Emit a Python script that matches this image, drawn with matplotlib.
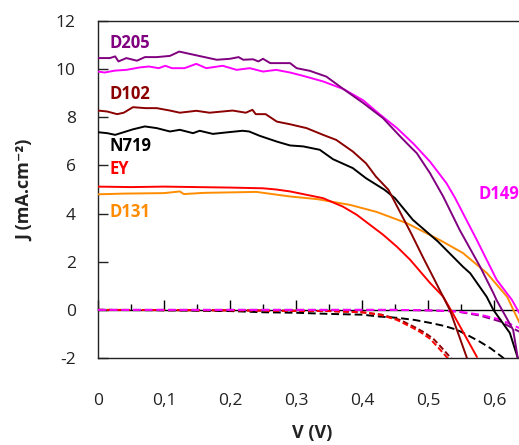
import matplotlib
matplotlib.use("Agg")
import matplotlib.pyplot as plt
from matplotlib.ticker import MultipleLocator, FuncFormatter

plt.rcParams['font.family'] = ['Open Sans', 'DejaVu Sans']

# ---- light J-V curves ----
v_d205 = [0.0, 0.018, 0.026, 0.031, 0.043, 0.059, 0.071, 0.089, 0.109, 0.123, 0.138, 0.158, 0.18, 0.2,
          0.213, 0.22, 0.235, 0.243, 0.25, 0.261, 0.291, 0.301, 0.321, 0.346, 0.372, 0.402, 0.432, 0.458,
          0.473, 0.483, 0.503, 0.523, 0.548, 0.579, 0.599, 0.604, 0.629, 0.636, 0.64]
j_d205 = [10.46, 10.46, 10.53, 10.32, 10.46, 10.35, 10.5, 10.5, 10.55, 10.73, 10.64, 10.52, 10.39, 10.43,
          10.5, 10.39, 10.41, 10.32, 10.43, 10.25, 10.25, 10.04, 9.93, 9.69, 9.17, 8.59, 7.96, 7.2,
          6.78, 6.51, 5.68, 4.71, 3.32, 1.79, 0.7, 0.4, -0.83, -2.0, -2.6]

v_d149 = [0.0, 0.01, 0.026, 0.043, 0.063, 0.077, 0.092, 0.102, 0.112, 0.131, 0.149, 0.164, 0.189, 0.21,
          0.23, 0.25, 0.27, 0.291, 0.311, 0.341, 0.372, 0.402, 0.427, 0.453, 0.478, 0.503, 0.528, 0.541,
          0.574, 0.604, 0.627, 0.638, 0.65]
j_d149 = [9.9, 9.86, 9.94, 9.97, 10.07, 10.11, 10.04, 10.14, 10.04, 10.04, 10.22, 10.04, 10.14, 9.97,
          10.04, 9.9, 9.97, 9.86, 9.72, 9.49, 9.17, 8.7, 8.12, 7.55, 6.9, 6.16, 5.26, 4.65,
          2.9, 1.25, 0.42, -0.12, -0.6]

v_d102 = [0.0, 0.014, 0.029, 0.039, 0.053, 0.072, 0.089, 0.109, 0.124, 0.149, 0.169, 0.204, 0.224, 0.234,
          0.239, 0.254, 0.271, 0.291, 0.316, 0.341, 0.361, 0.386, 0.406, 0.421, 0.44, 0.475, 0.493,
          0.508, 0.523, 0.533, 0.559]
j_d102 = [8.28, 8.24, 8.13, 8.19, 8.42, 8.38, 8.38, 8.28, 8.19, 8.27, 8.19, 8.28, 8.19, 8.31,
          8.13, 8.13, 7.82, 7.71, 7.55, 7.27, 7.06, 6.58, 6.09, 5.54, 4.99, 3.15, 2.15,
          1.35, 0.54, 0.0, -2.0]

v_n719 = [0.0, 0.014, 0.026, 0.039, 0.053, 0.071, 0.089, 0.109, 0.124, 0.144, 0.154, 0.174, 0.194, 0.219,
          0.229, 0.245, 0.271, 0.291, 0.311, 0.336, 0.356, 0.386, 0.406, 0.434, 0.45, 0.477, 0.515, 0.553,
          0.564, 0.589, 0.599, 0.624, 0.636]
j_n719 = [7.38, 7.34, 7.27, 7.38, 7.5, 7.62, 7.55, 7.41, 7.48, 7.34, 7.44, 7.31, 7.37, 7.44,
          7.41, 7.23, 6.99, 6.83, 6.79, 6.65, 6.26, 5.89, 5.47, 4.99, 4.64, 3.74, 2.84, 1.79,
          1.52, 0.54, 0.0, -0.96, -2.0]

v_ey = [0.0, 0.05, 0.1, 0.15, 0.2, 0.25, 0.27, 0.291, 0.316, 0.341, 0.371, 0.392, 0.432, 0.453, 0.473,
        0.503, 0.523, 0.536, 0.574]
j_ey = [5.12, 5.1, 5.12, 5.1, 5.08, 5.05, 5.0, 4.92, 4.78, 4.64, 4.29, 3.95, 3.12, 2.62, 2.08,
        1.12, 0.55, -0.07, -1.95]

v_d131 = [0.0, 0.04, 0.1, 0.124, 0.13, 0.16, 0.2, 0.24, 0.291, 0.332, 0.382, 0.422, 0.468, 0.518, 0.553,
          0.589, 0.62, 0.638, 0.65]
j_d131 = [4.8, 4.83, 4.85, 4.92, 4.81, 4.86, 4.88, 4.9, 4.71, 4.6, 4.36, 4.07, 3.6, 2.9, 2.36,
          1.53, 0.54, -0.5, -1.1]

# ---- dark J-V curves ----
v_n719_dark = [0.0, 0.1, 0.2, 0.25, 0.3, 0.352, 0.4, 0.427, 0.453, 0.48, 0.503, 0.525, 0.544, 0.56, 0.579,
               0.595, 0.612, 0.62]
j_n719_dark = [0.0, -0.02, -0.05, -0.1, -0.12, -0.17, -0.2, -0.28, -0.33, -0.42, -0.54, -0.67, -0.83, -1.05,
               -1.33, -1.6, -1.95, -2.15]
v_ey_dark = [0.0, 0.2, 0.35, 0.4, 0.427, 0.453, 0.477, 0.49, 0.503, 0.515, 0.528, 0.54]
j_ey_dark = [0.0, -0.02, -0.05, -0.1, -0.2, -0.42, -0.75, -0.95, -1.2, -1.55, -1.95, -2.3]
v_d102_dark = [0.0, 0.2, 0.35, 0.4, 0.43, 0.458, 0.482, 0.495, 0.508, 0.52, 0.533, 0.545]
j_d102_dark = [0.0, -0.02, -0.05, -0.1, -0.2, -0.42, -0.75, -0.95, -1.2, -1.55, -1.95, -2.3]
v_d205_dark = [0.0, 0.3, 0.45, 0.5, 0.544, 0.579, 0.609, 0.638, 0.65]
j_d205_dark = [0.0, 0.0, 0.0, -0.02, -0.07, -0.24, -0.48, -0.9, -1.1]
v_d149_dark = [0.0, 0.3, 0.45, 0.5, 0.544, 0.579, 0.609, 0.638, 0.65]
j_d149_dark = [0.0, 0.0, 0.0, -0.02, -0.06, -0.2, -0.4, -0.75, -0.9]

names = ['D205', 'D149', 'D102', 'N719', 'EY', 'D131']
colors = {'D205': '#800080', 'D149': '#FF00FF', 'D102': '#8B0000', 'N719': '#000000',
          'EY': '#FF0000', 'D131': '#FF8C00'}

x_ticks_labels = ['0', '0,1', '0,2', '0,3', '0,4', '0,5', '0,6']

W, H = 519, 445
fig = plt.figure(figsize=(W / 100, H / 100), dpi=100)
ax = fig.add_axes([98 / W, (445 - 358) / H, 0.64 * 660 / W, 337 / H])
ax.set_xlim(0, 0.64)
ax.set_ylim(-2, 12)

lw = 1.4
# dark curves
ax.plot(v_n719_dark, j_n719_dark, color=colors['N719'], lw=lw, ls=(0, (4, 2)), zorder=3)
ax.plot(v_d102_dark, j_d102_dark, color=colors['D102'], lw=lw, ls=(0, (3, 1.5)), zorder=3)
ax.plot(v_ey_dark, j_ey_dark, color=colors['EY'], lw=lw, ls=(0, (3, 1.5)), zorder=3)
ax.plot(v_d205_dark, j_d205_dark, color=colors['D205'], lw=lw, ls=(0, (4, 2)), zorder=3)
ax.plot(v_d149_dark, j_d149_dark, color=colors['D149'], lw=lw, ls=(0, (4, 2)), zorder=3)

# light curves
light = {'D205': (v_d205, j_d205), 'D149': (v_d149, j_d149), 'D102': (v_d102, j_d102),
         'N719': (v_n719, j_n719), 'EY': (v_ey, j_ey), 'D131': (v_d131, j_d131)}
for n in ['D131', 'EY', 'N719', 'D102', 'D149', 'D205']:
    v, j = light[n]
    ax.plot(v, j, color=colors[n], lw=lw, zorder=4)

# curve labels
lab_fs = 12
label_pos = {'D205': (0.018, 11.1), 'D102': (0.018, 8.95), 'N719': (0.018, 6.8),
             'EY': (0.018, 5.85), 'D131': (0.018, 4.05), 'D149': (0.577, 4.8)}
for n, (x, y) in label_pos.items():
    ax.text(x, y, n, color=colors[n], fontsize=lab_fs, fontweight='bold', ha='left', va='center',
            zorder=5)

# axes styling
for s in ['top', 'left', 'bottom']:
    ax.spines[s].set_color('#222222')
    ax.spines[s].set_linewidth(1.0)
ax.spines['right'].set_visible(False)

ax.yaxis.set_major_locator(MultipleLocator(2))
ax.yaxis.set_major_formatter(FuncFormatter(lambda y, p: f"{y:.0f}"))
ax.tick_params(axis='y', direction='in', length=7, width=1, pad=16, labelsize=12.5, colors='#222222')

ax.set_xticks([0.0, 0.1, 0.2, 0.3, 0.4, 0.5, 0.6])
ax.set_xticklabels(x_ticks_labels)
ax.tick_params(axis='x', length=0, pad=25, labelsize=12.5, colors='#222222')

# x axis line crossing at J = 0 with ticks
sec = ax.secondary_xaxis(0, transform=ax.transData)
sec.spines['bottom'].set_color('black')
sec.spines['bottom'].set_linewidth(1.0)
sec.xaxis.set_major_locator(MultipleLocator(0.1))
sec.xaxis.set_minor_locator(MultipleLocator(0.05))
sec.tick_params(axis='x', which='major', direction='in', length=7, width=1, labelbottom=False,
                labeltop=False, colors='black')
sec.tick_params(axis='x', which='minor', direction='in', length=4.5, width=1)

fig.text(25 / W, 1 - 190 / H, 'J (mA.cm⁻²)', rotation=90, ha='center', va='center',
         fontsize=13, fontweight='bold', color='#222222')
fig.text(312 / W, 1 - 433 / H, 'V (V)', ha='center', va='center', fontsize=13,
         fontweight='bold', color='#222222')

fig.savefig('out.png', dpi=100)
